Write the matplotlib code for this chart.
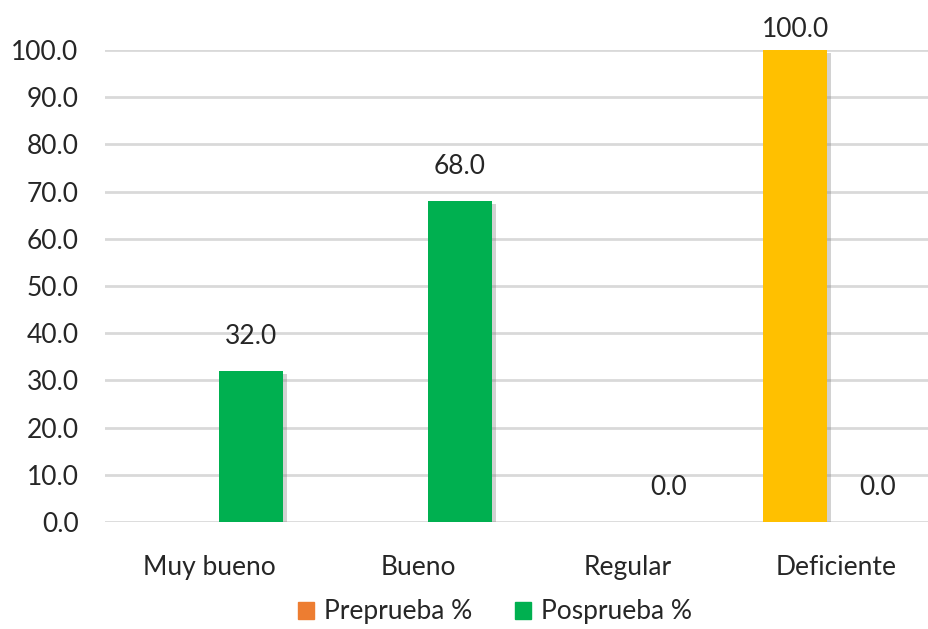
import numpy as np
import matplotlib
matplotlib.use("Agg")
import matplotlib.pyplot as plt
import matplotlib.patheffects as pe
from matplotlib.patches import Patch

categories = ["Muy bueno", "Bueno", "Regular", "Deficiente"]
preprueba = [None, None, None, 100.0]
posprueba = [32.0, 68.0, 0.0, 0.0]
yticks = [0, 10, 20, 30, 40, 50, 60, 70, 80, 90, 100]

plt.rcParams['font.family'] = ['Lato', 'DejaVu Sans']
fs = 19

fig = plt.figure(figsize=(9.29, 6.29), dpi=100)
ax = fig.add_axes([105 / 929, 107 / 629, 836 / 929, 472 / 629])

x = np.arange(len(categories))
w = 0.305
off = 0.197
shadow = [pe.SimplePatchShadow(offset=(3, -2), shadow_rgbFace='#808080', alpha=0.35), pe.Normal()]

for i, v in enumerate(preprueba):
    if v is None:
        continue
    ax.bar(x[i] - off, v, w, color='#FFC000', zorder=3, path_effects=shadow)
    ax.text(x[i] - off, v + 1.6, f"{v:.1f}", ha='center', va='bottom', fontsize=fs, color='#262626', clip_on=False)

for i, v in enumerate(posprueba):
    if v > 0:
        ax.bar(x[i] + off, v, w, color='#00B050', zorder=3, path_effects=shadow)
    ax.text(x[i] + off, v + 4.6, f"{v:.1f}", ha='center', va='bottom', fontsize=fs, color='#262626', clip_on=False)

ax.set_xlim(-0.5, len(categories) - 0.5)
ax.set_ylim(0, 100)
ax.set_yticks(yticks)
ax.set_yticklabels([f"{t:.1f}" for t in yticks], fontsize=fs, color='#262626')
ax.set_xticks(x)
ax.set_xticklabels(categories, fontsize=fs, color='#262626')
ax.tick_params(axis='y', length=0, pad=19)
ax.tick_params(axis='x', length=0, pad=24)
ax.grid(axis='y', color='#D9D9D9', linewidth=2, zorder=0)
for s in ax.spines.values():
    s.set_visible(False)

handles = [Patch(color='#ED7D31', label='Preprueba %'), Patch(color='#00B050', label='Posprueba %')]
fig.legend(handles=handles, loc='center', bbox_to_anchor=(495 / 929, 1 - 612 / 629), ncol=2,
           frameon=False, fontsize=fs, handlelength=0.6, handleheight=0.6, handletextpad=0.4,
           columnspacing=1.6, labelcolor='#262626')

fig.savefig("out.png", dpi=100)
